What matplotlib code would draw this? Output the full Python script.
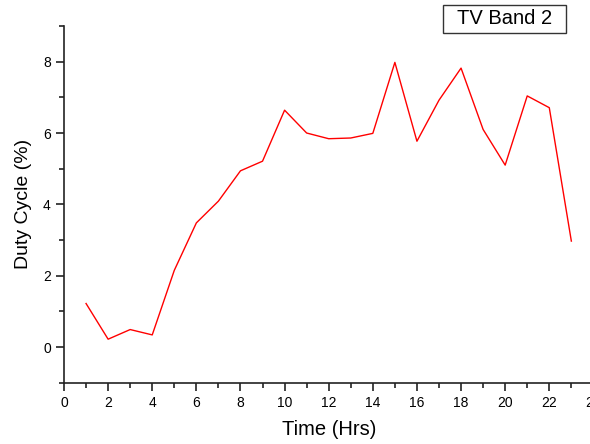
import numpy as np
import matplotlib.pyplot as plt
from matplotlib.ticker import MultipleLocator
from matplotlib.patches import Rectangle

plt.rcParams['font.family'] = ['Liberation Sans', 'DejaVu Sans']

## Données : taux d'occupation par heure
hours = [1, 2, 3, 4, 5, 6, 7, 8, 9, 10, 11, 12, 13, 14, 15, 16, 17, 18, 19, 20, 21, 22, 23]
duty = [1.22, 0.22, 0.49, 0.34, 2.15, 3.48, 4.09, 4.94, 5.21, 6.64, 6.00, 5.84,
        5.86, 5.99, 7.98, 5.77, 6.92, 7.82, 6.10, 5.10, 7.04, 6.71, 2.97]
band = "TV Band 2"

W, H = 590, 444
fig = plt.figure(figsize=(W/100, H/100), dpi=100)
ax = fig.add_axes([64/W, 1 - 382.7/H, 529.4/W, (382.7 - 26)/H])

ax.plot(hours, duty, color='red', lw=1)

ax.set_xlim(0, 24)
ax.set_ylim(-1, 9)
ax.xaxis.set_major_locator(MultipleLocator(2))
ax.xaxis.set_minor_locator(MultipleLocator(1))
ax.yaxis.set_major_locator(MultipleLocator(2))
ax.yaxis.set_minor_locator(MultipleLocator(1))

ax.spines['top'].set_visible(False)
ax.spines['right'].set_visible(False)
for s in ['left', 'bottom']:
    ax.spines[s].set_linewidth(1.2)
    ax.spines[s].set_color('#222222')

ax.tick_params(which='major', direction='out', length=6, width=1.2, labelsize=10, color='#222222')
ax.tick_params(which='minor', direction='out', length=3.5, width=1.2, color='#222222')

ax.set_xlabel("Time (Hrs)", fontsize=14.5, labelpad=7)
ax.set_ylabel("Duty Cycle (%)", fontsize=14, labelpad=8)

# boîte de légende (texte seul)
fig.patches.append(Rectangle((443/W, 1 - 33/H), 123/W, 28/H, transform=fig.transFigure,
                             facecolor='white', edgecolor='#333333', lw=1))
fig.text(504.5/W, 1 - 19/H, band, fontsize=14.5, ha='center', va='center')

fig.savefig("out.png", dpi=100)
